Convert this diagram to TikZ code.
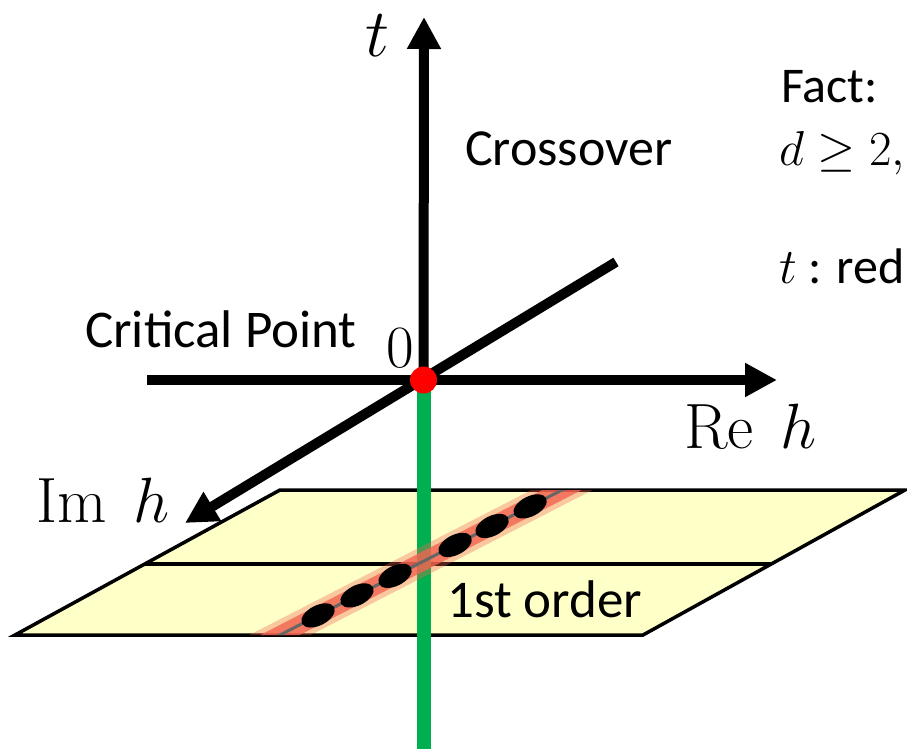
\RequirePackage{fix-cm}
\documentclass[tikz,border=0pt]{standalone}
\usepackage{fontspec}
\setsansfont{Carlito}
\usetikzlibrary{arrows.meta,shapes.geometric,calc}
\definecolor{planefill}{RGB}{255,255,200}
\definecolor{greenax}{RGB}{0,176,80}
\definecolor{bandred}{RGB}{242,100,80}
\begin{document}
\begin{tikzpicture}[x=1pt,y=-1pt,
  axis/.style={line width=10pt,-{Triangle[length=32pt,width=32pt]}},
  planeshape/.style={fill=planefill,draw=black,line width=3.5pt},
  planeline/.style={draw=black,line width=3.5pt},
  blob/.style={ellipse,fill=black,minimum width=36pt,minimum height=20pt,inner sep=0pt,rotate=27},
  serifl/.style={inner sep=0pt,anchor=base west,font=\fontsize{64}{74}\selectfont},
  sansl/.style={inner sep=0pt,anchor=base west,font=\sffamily\fontsize{52}{62}\selectfont}]
\useasboundingbox (0,0) rectangle (907,749);
% coordinates
\coordinate (O) at (423.5,380);
\coordinate (tTip) at (424,17);
\coordinate (reL) at (147,380);
\coordinate (reTip) at (777,380);
\coordinate (imR) at (616,262);
\coordinate (imTip) at (185,523);
\coordinate (P1) at (15,635);
\coordinate (P2) at (280,490);
\coordinate (P3) at (905,490);
\coordinate (P4) at (643,635);
\coordinate (M1) at (145,564);
\coordinate (M2) at (771,564);
\coordinate (B1) at (280,635);
\coordinate (B2) at (562,490);
\coordinate (gEnd) at (423.5,749);
% plane
\filldraw[planeshape] (P1) -- (P2) -- (P3) -- (P4) -- cycle;
\draw[planeline] (M1) -- (M2);
% green line
\draw[greenax,line width=14pt] (O) -- (gEnd);
% red band
\begin{scope}
  \clip (P1) -- (P2) -- (P3) -- (P4) -- cycle;
  \draw[bandred,opacity=0.35,line width=28pt] ($(B1)!-0.1!(B2)$) -- ($(B1)!1.1!(B2)$);
  \draw[bandred,opacity=0.8,line width=18pt] ($(B1)!-0.1!(B2)$) -- ($(B1)!1.1!(B2)$);
  \draw[black!60,line width=3pt] ($(B1)!-0.1!(B2)$) -- ($(B1)!1.1!(B2)$);
\end{scope}
\node[blob] (e1) at ($(B1)!0.135!(B2)$) {};
\node[blob] (e2) at ($(B1)!0.273!(B2)$) {};
\node[blob] (e3) at ($(B1)!0.408!(B2)$) {};
\node[blob] (e4) at ($(B1)!0.621!(B2)$) {};
\node[blob] (e5) at ($(B1)!0.752!(B2)$) {};
\node[blob] (e6) at ($(B1)!0.887!(B2)$) {};
% axes
\draw[axis] (O) -- (tTip);
\draw[axis] (reL) -- (reTip);
\draw[axis] (imR) -- (imTip);
\node[circle,fill=red,minimum size=27pt,inner sep=0pt] (dot) at (O) {};
% labels
\node[serifl,font=\fontsize{68}{80}\selectfont] (tlab) at (365,57) {$t$};
\node[serifl,font=\fontsize{60}{70}\selectfont] (zero) at (386,367) {$0$};
\node[serifl] (relab) at (684,448) {$\mathrm{Re}\hspace{0.42em}h$};
\node[serifl] (imlab) at (36,522) {$\mathrm{Im}\hspace{0.42em}h$};
\node[sansl,font=\sffamily\fontsize{53}{63}\selectfont] (crit) at (85,347) {Critical Point};
\node[sansl] (cross) at (465,165) {Crossover};
\node[sansl,font=\sffamily\fontsize{53}{63}\selectfont] (first) at (447,617) {1st order};
\node[sansl,font=\sffamily\fontsize{50}{60}\selectfont] (fact) at (781,103) {Fact:};
\node[serifl,font=\fontsize{49}{59}\selectfont] (dge) at (779,165) {$d \geq 2,$};
\node[sansl,font=\sffamily\fontsize{50}{60}\selectfont] (tred) at (779,283) {$t$ : red};
\end{tikzpicture}
\end{document}
